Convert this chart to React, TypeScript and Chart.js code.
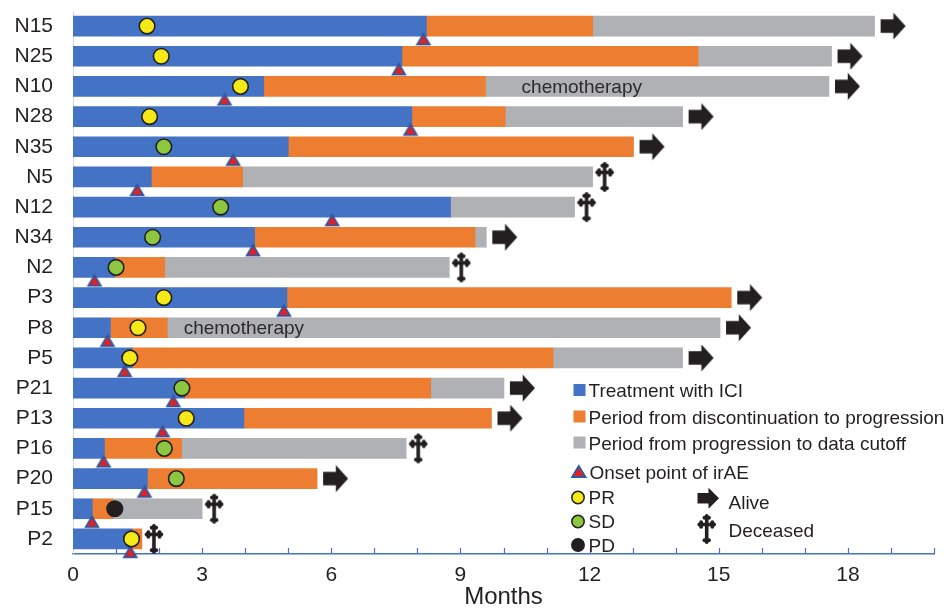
import React, { useEffect, useRef } from 'react';
import { Chart, registerables } from 'chart.js';

Chart.register(...registerables);

const FONT = '"Liberation Sans", Arial, Helvetica, sans-serif';
const INK = '#231F20';

// ---- data (months) ----
const patients = ['N15', 'N25', 'N10', 'N28', 'N35', 'N5', 'N12', 'N34', 'N2', 'P3', 'P8', 'P5', 'P21', 'P13', 'P16', 'P20', 'P15', 'P2'];
const iciEnd = [8.21, 7.64, 4.43, 7.87, 5.0, 1.82, 8.77, 4.22, 0.98, 4.97, 0.87, 1.38, 2.6, 3.97, 0.73, 1.73, 0.45, 1.37];
const progressionAt = [12.07, 14.52, 9.58, 10.04, 13.02, 3.94, 8.77, 9.34, 2.13, 15.29, 2.19, 11.15, 8.31, 9.72, 2.52, 5.67, 0.93, 1.6];
const cutoffAt = [18.62, 17.62, 17.56, 14.16, 13.02, 12.07, 11.65, 9.6, 8.74, 15.29, 15.03, 14.16, 10.01, 9.72, 7.74, 5.67, 3.0, 1.6];
const irAEOnset = [8.14, 7.57, 3.52, 7.84, 3.72, 1.49, 6.02, 4.18, 0.5, 4.9, 0.8, 1.2, 2.33, 2.08, 0.71, 1.66, 0.44, 1.33];
const responseAt = [1.72, 2.05, 3.89, 1.78, 2.11, null, 3.43, 1.85, 1.0, 2.11, 1.51, 1.32, 2.53, 2.63, 2.12, 2.4, 0.97, 1.36];
const bestResponse = ['PR', 'PR', 'PR', 'PR', 'SD', null, 'SD', 'SD', 'SD', 'PR', 'PR', 'PR', 'SD', 'PR', 'SD', 'SD', 'PD', 'PR'];
const outcome = ['alive', 'alive', 'alive', 'alive', 'alive', 'deceased', 'deceased', 'alive', 'deceased', 'alive', 'alive', 'alive', 'alive', 'alive', 'deceased', 'alive', 'deceased', 'deceased'];

const noteRows = ['N10', 'P8'];
const noteStart = [10.42, 2.57];
const noteText = ['chemotherapy', 'chemotherapy'];

const segmentLabels = ['Treatment with ICI', 'Period from discontinuation to progression', 'Period from progression to data cutoff'];
const segmentColors = ['#4472C4', '#ED7D31', '#B0B1B4'];
const responseLabels = ['PR', 'SD', 'PD'];
const responseColors = ['#F5EA17', '#8DC63F', '#231F20'];
const outcomeLabels = ['Alive', 'Deceased'];
const irAELabel = 'Onset point of irAE';
const xLabelStep = 3;
const xMax = 20;
const axisTitle = 'Months';

const TRI_FILL = '#E41F26';
const TRI_BORDER = '#2D5AA0';

function drawArrow(g: CanvasRenderingContext2D, x0: number, cy: number, w: number, h: number) {
  const bodyH = h * 0.5;
  const bodyW = w * 0.51;
  g.fillStyle = INK;
  g.beginPath();
  g.moveTo(x0, cy - bodyH / 2);
  g.lineTo(x0 + bodyW, cy - bodyH / 2);
  g.lineTo(x0 + bodyW, cy - h / 2);
  g.lineTo(x0 + w, cy);
  g.lineTo(x0 + bodyW, cy + h / 2);
  g.lineTo(x0 + bodyW, cy + bodyH / 2);
  g.lineTo(x0, cy + bodyH / 2);
  g.closePath();
  g.fill();
}

function drawCross(g: CanvasRenderingContext2D, cx: number, cy: number, h: number) {
  const r = h * 0.065;
  const top = cy - h / 2 + r;
  const bottom = cy + h / 2 - r;
  const barY = cy - h * 0.15;
  const half = h * 0.31 - r;
  g.strokeStyle = INK;
  g.fillStyle = INK;
  g.lineWidth = h * 0.12;
  g.lineCap = 'butt';
  g.beginPath();
  g.moveTo(cx, top);
  g.lineTo(cx, bottom);
  g.moveTo(cx - half, barY);
  g.lineTo(cx + half, barY);
  g.stroke();
  const knob = (ex: number, ey: number, dx: number, dy: number) => {
    const nx = -dy;
    const ny = dx;
    const pts = [
      [ex, ey],
      [ex - dx * r * 0.9 + nx * r * 1.15, ey - dy * r * 0.9 + ny * r * 1.15],
      [ex - dx * r * 0.9 - nx * r * 1.15, ey - dy * r * 0.9 - ny * r * 1.15],
    ];
    pts.forEach(([px, py]) => {
      g.beginPath();
      g.arc(px, py, r, 0, Math.PI * 2);
      g.fill();
    });
  };
  knob(cx, top, 0, -1);
  knob(cx, bottom, 0, 1);
  knob(cx - half, barY, -1, 0);
  knob(cx + half, barY, 1, 0);
}

function drawTriangle(g: CanvasRenderingContext2D, cx: number, topY: number, w: number, h: number) {
  g.beginPath();
  g.moveTo(cx, topY);
  g.lineTo(cx + w / 2, topY + h);
  g.lineTo(cx - w / 2, topY + h);
  g.closePath();
  g.fillStyle = TRI_FILL;
  g.fill();
  g.lineWidth = 1.8;
  g.lineJoin = 'miter';
  g.strokeStyle = TRI_BORDER;
  g.stroke();
}

export default function App() {
  const ref = useRef<HTMLCanvasElement>(null);

  useEffect(() => {
    const canvas = ref.current;
    if (!canvas) return;

    // marker images: arrow/cross drawn right of the anchor, triangle drawn below it
    const arrowImg = document.createElement('canvas');
    arrowImg.width = 72;
    arrowImg.height = 32;
    drawArrow(arrowImg.getContext('2d') as CanvasRenderingContext2D, 36 + 6, 16, 25, 27);

    const crossImg = document.createElement('canvas');
    crossImg.width = 48;
    crossImg.height = 34;
    drawCross(crossImg.getContext('2d') as CanvasRenderingContext2D, 24 + 12, 17, 30);

    const triImg = document.createElement('canvas');
    triImg.width = 24;
    triImg.height = 44;
    drawTriangle(triImg.getContext('2d') as CanvasRenderingContext2D, 12, 22 + 7.8, 12.6, 10.6);

    const idx = patients.map((_, i) => i);

    const blue = idx.map((i) => [0, iciEnd[i]]);
    const orange = idx.map((i) => (progressionAt[i] > iciEnd[i] ? [iciEnd[i], progressionAt[i]] : null));
    const gray = idx.map((i) => (cutoffAt[i] > progressionAt[i] ? [progressionAt[i], cutoffAt[i]] : null));

    const triPts = idx.map((i) => ({ x: irAEOnset[i], y: patients[i] }));
    const respIdx = idx.filter((i) => responseAt[i] !== null);
    const respPts = respIdx.map((i) => ({ x: responseAt[i] as number, y: patients[i] }));
    const respCols = respIdx.map((i) => responseColors[responseLabels.indexOf(bestResponse[i] as string)]);
    const alivePts = idx.filter((i) => outcome[i] === 'alive').map((i) => ({ x: cutoffAt[i], y: patients[i] }));
    const deadPts = idx.filter((i) => outcome[i] === 'deceased').map((i) => ({ x: cutoffAt[i], y: patients[i] }));

    const barCommon = {
      type: 'bar' as const,
      grouped: false,
      barThickness: 20,
      borderWidth: 0,
      order: 10,
      yAxisID: 'y',
      xAxisID: 'x',
    };
    const scatterCommon = {
      type: 'scatter' as const,
      xAxisID: 'x',
      yAxisID: 'y',
      clip: false as const,
    };

    const minorTicks = {
      id: 'minorTicks',
      beforeDatasetsDraw(chart: any) {
        const { ctx, chartArea, scales } = chart;
        ctx.save();
        ctx.strokeStyle = '#4472C4';
        ctx.lineWidth = 1.2;
        for (let v = 1; v <= xMax; v++) {
          const px = Math.round(scales.x.getPixelForValue(v)) + 0.5;
          ctx.beginPath();
          ctx.moveTo(px, chartArea.bottom);
          ctx.lineTo(px, chartArea.bottom - 6);
          ctx.stroke();
        }
        ctx.restore();
      },
    };

    const notes = {
      id: 'notes',
      afterDatasetsDraw(chart: any) {
        const { ctx, scales } = chart;
        ctx.save();
        ctx.font = `19px ${FONT}`;
        ctx.fillStyle = '#2B2B2B';
        ctx.textAlign = 'left';
        ctx.textBaseline = 'middle';
        noteRows.forEach((row, k) => {
          const x = scales.x.getPixelForValue(noteStart[k]);
          const y = scales.y.getPixelForValue(patients.indexOf(row));
          ctx.fillText(noteText[k], x, y + 1);
        });
        ctx.restore();
      },
    };

    const customLegend = {
      id: 'customLegend',
      afterDraw(chart: any) {
        const ctx = chart.ctx as CanvasRenderingContext2D;
        ctx.save();
        ctx.font = `19px ${FONT}`;
        ctx.textAlign = 'left';
        ctx.textBaseline = 'alphabetic';
        const tx = 588.5;
        const segBase = [397, 423.5, 449.5];
        segmentLabels.forEach((lab, k) => {
          ctx.fillStyle = segmentColors[k];
          ctx.fillRect(573.5, segBase[k] - 13, 12, 12);
          ctx.fillStyle = INK;
          ctx.fillText(lab, tx, segBase[k]);
        });
        drawTriangle(ctx, 578.8, 466, 13.5, 11);
        ctx.fillStyle = INK;
        ctx.fillText(irAELabel, tx + 1, 479);

        const respBase = [504, 528, 551.5];
        responseLabels.forEach((lab, k) => {
          ctx.beginPath();
          ctx.arc(578, respBase[k] - 6.5, 6.2, 0, Math.PI * 2);
          ctx.fillStyle = responseColors[k];
          ctx.fill();
          ctx.lineWidth = 1.5;
          ctx.strokeStyle = INK;
          ctx.stroke();
          ctx.fillStyle = INK;
          ctx.fillText(lab, tx, respBase[k]);
        });

        drawArrow(ctx, 697.5, 498.3, 21.5, 21);
        drawCross(ctx, 706.7, 529, 30);
        ctx.fillStyle = INK;
        ctx.fillText(outcomeLabels[0], 728.5, 509);
        ctx.fillText(outcomeLabels[1], 728.5, 536.5);
        ctx.restore();
      },
    };

    const chart = new Chart(canvas, {
      type: 'bar',
      data: {
        labels: patients,
        datasets: [
          { ...barCommon, label: segmentLabels[0], data: blue, backgroundColor: segmentColors[0] },
          { ...barCommon, label: segmentLabels[1], data: orange, backgroundColor: segmentColors[1] },
          { ...barCommon, label: segmentLabels[2], data: gray, backgroundColor: segmentColors[2] },
          {
            ...scatterCommon,
            label: irAELabel,
            data: triPts,
            order: 3,
            pointStyle: triImg,
            pointRadius: 10,
          },
          {
            ...scatterCommon,
            label: 'Response',
            data: respPts,
            order: 2,
            pointStyle: 'circle',
            pointRadius: 7.8,
            backgroundColor: respCols,
            borderColor: INK,
            borderWidth: 1.6,
          },
          {
            ...scatterCommon,
            label: outcomeLabels[0],
            data: alivePts,
            order: 1,
            pointStyle: arrowImg,
            pointRadius: 10,
          },
          {
            ...scatterCommon,
            label: outcomeLabels[1],
            data: deadPts,
            order: 1,
            pointStyle: crossImg,
            pointRadius: 10,
          },
        ] as any,
      },
      options: {
        indexAxis: 'y',
        responsive: false,
        animation: false,
        events: [],
        layout: { padding: { top: 10, right: 18, bottom: 0, left: 0 } },
        plugins: {
          legend: { display: false },
          tooltip: { enabled: false },
        },
        scales: {
          x: {
            type: 'linear',
            position: 'bottom',
            min: 0,
            max: xMax,
            grid: { display: false, drawTicks: false },
            border: { display: true, color: '#4472C4', width: 1.5 },
            ticks: {
              stepSize: 1,
              autoSkip: false,
              maxRotation: 0,
              padding: 9,
              color: INK,
              font: { family: FONT, size: 21 },
              callback: (v: any) => (Number(v) % xLabelStep === 0 ? String(v) : ''),
            },
            title: {
              display: true,
              text: axisTitle,
              color: INK,
              font: { family: FONT, size: 24 },
              padding: { top: 0, bottom: 0 },
            },
            afterFit: (s: any) => {
              s.height = 58;
            },
          },
          y: {
            type: 'category',
            position: 'left',
            offset: true,
            grid: { display: false, drawTicks: false },
            border: { display: true, color: '#D6D9DE', width: 1 },
            ticks: {
              padding: 20,
              color: INK,
              font: { family: FONT, size: 21 },
            },
            afterFit: (s: any) => {
              s.width = 73;
              s.paddingTop = 0;
              s.paddingBottom = 0;
            },
          },
        },
      } as any,
      plugins: [minorTicks, notes, customLegend],
    });

    return () => chart.destroy();
  }, []);

  return (
    <div style={{ position: 'absolute', left: 0, top: 0, width: 952, height: 612, background: '#fff' }}>
      <canvas ref={ref} width={952} height={612} style={{ display: 'block', width: 952, height: 612 }} />
    </div>
  );
}
